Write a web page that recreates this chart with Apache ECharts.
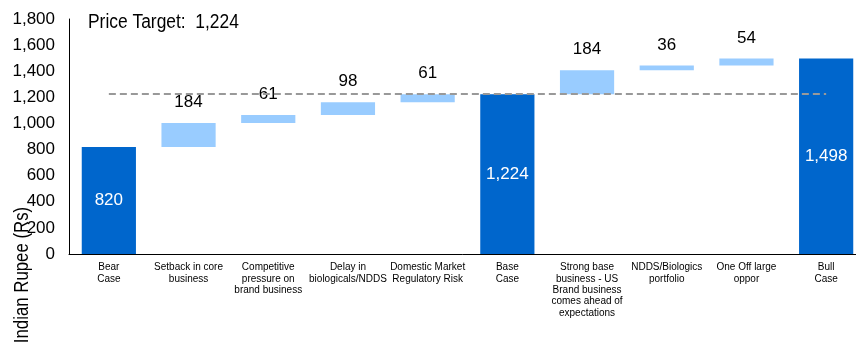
<!DOCTYPE html>
<html>
<head>
<meta charset="utf-8">
<script src="https://cdn.jsdelivr.net/npm/echarts@6/dist/echarts.min.js"></script>
<style>
  html, body { margin: 0; padding: 0; background: #fff; }
  #chart { width: 856px; height: 343px; }
</style>
</head>
<body>
<div id="chart"></div>
<script>
// categories along the x axis
var categories = [
  "Bear\nCase",
  "Setback in core\nbusiness",
  "Competitive\npressure on\nbrand business",
  "Delay in\nbiologicals/NDDS",
  "Domestic Market\nRegulatory Risk",
  "Base\nCase",
  "Strong base\nbusiness - US\nBrand business\ncomes ahead of\nexpectations",
  "NDDS/Biologics\nportfolio",
  "One Off large\noppor",
  "Bull\nCase"
];
// full bars (scenario values)
var totalValues = [820, null, null, null, null, 1224, null, null, null, 1498];
// step bars (increments)
var deltaValues = [null, 184, 61, 98, 61, null, 184, 36, 54, null];
var priceTarget = 1224;
var yTicks = [0, 200, 400, 600, 800, 1000, 1200, 1400, 1600, 1800];

var FONT = '"Liberation Sans", Arial, sans-serif';

// invisible base for the waterfall steps
var baseValues = [];
var running = 0;
for (var i = 0; i < categories.length; i++) {
  if (totalValues[i] != null) {
    running = totalValues[i];
    baseValues.push(0);
  } else {
    baseValues.push(running);
    running += deltaValues[i];
  }
}

var myChart = echarts.init(document.getElementById("chart"));

var option = {
  animation: false,
  grid: {
    left: 69,
    width: 797,
    top: 19,
    bottom: 89,
    outerBoundsMode: "none"
  },
  xAxis: {
    type: "category",
    data: categories,
    axisLine: { lineStyle: { color: "#000", width: 1 } },
    axisTick: { show: false },
    axisLabel: {
      interval: 0,
      margin: 8,
      fontFamily: FONT,
      fontSize: 10,
      lineHeight: 11.3,
      color: "#000"
    }
  },
  yAxis: {
    type: "value",
    min: yTicks[0],
    max: yTicks[yTicks.length - 1],
    interval: 200,
    axisLine: { show: true, lineStyle: { color: "#000", width: 1 } },
    axisTick: { show: false },
    splitLine: { show: false },
    axisLabel: {
      margin: 14,
      fontFamily: FONT,
      fontSize: 17,
      color: "#000",
      formatter: function (v) { return echarts.format.addCommas(v); }
    }
  },
  graphic: [
    {
      type: "text",
      x: 88,
      y: 22,
      scaleX: 0.87,
      style: {
        text: "Price Target:  " + echarts.format.addCommas(priceTarget),
        fontFamily: FONT,
        fontSize: 20,
        fill: "#000",
        align: "left",
        verticalAlign: "middle"
      }
    },
    {
      type: "text",
      x: 22,
      y: 275,
      rotation: Math.PI / 2,
      scaleX: 0.84,
      style: {
        text: "Indian Rupee (Rs)",
        fontFamily: FONT,
        fontSize: 20,
        fill: "#000",
        align: "center",
        verticalAlign: "middle"
      }
    }
  ],
  series: [
    {
      name: "base",
      type: "bar",
      stack: "w",
      barWidth: "68%",
      itemStyle: { color: "transparent" },
      silent: true,
      data: baseValues
    },
    {
      name: "step",
      type: "bar",
      stack: "w",
      barWidth: "68%",
      itemStyle: { color: "#99CCFF" },
      label: {
        show: true,
        position: "top",
        distance: 12,
        fontFamily: FONT,
        fontSize: 17,
        color: "#000"
      },
      data: deltaValues
    },
    {
      name: "total",
      type: "bar",
      stack: "w",
      barWidth: "68%",
      itemStyle: { color: "#0066CC" },
      label: {
        show: true,
        position: "inside",
        fontFamily: FONT,
        fontSize: 17,
        color: "#fff",
        formatter: function (p) { return echarts.format.addCommas(p.value); }
      },
      markLine: {
        silent: true,
        symbol: "none",
        label: { show: false },
        lineStyle: { type: [7, 4], color: "#999", width: 2 },
        data: [[
          { coord: [0, priceTarget] },
          { coord: [categories.length - 1, priceTarget] }
        ]]
      },
      data: totalValues
    }
  ]
};

myChart.setOption(option);
</script>
</body>
</html>
